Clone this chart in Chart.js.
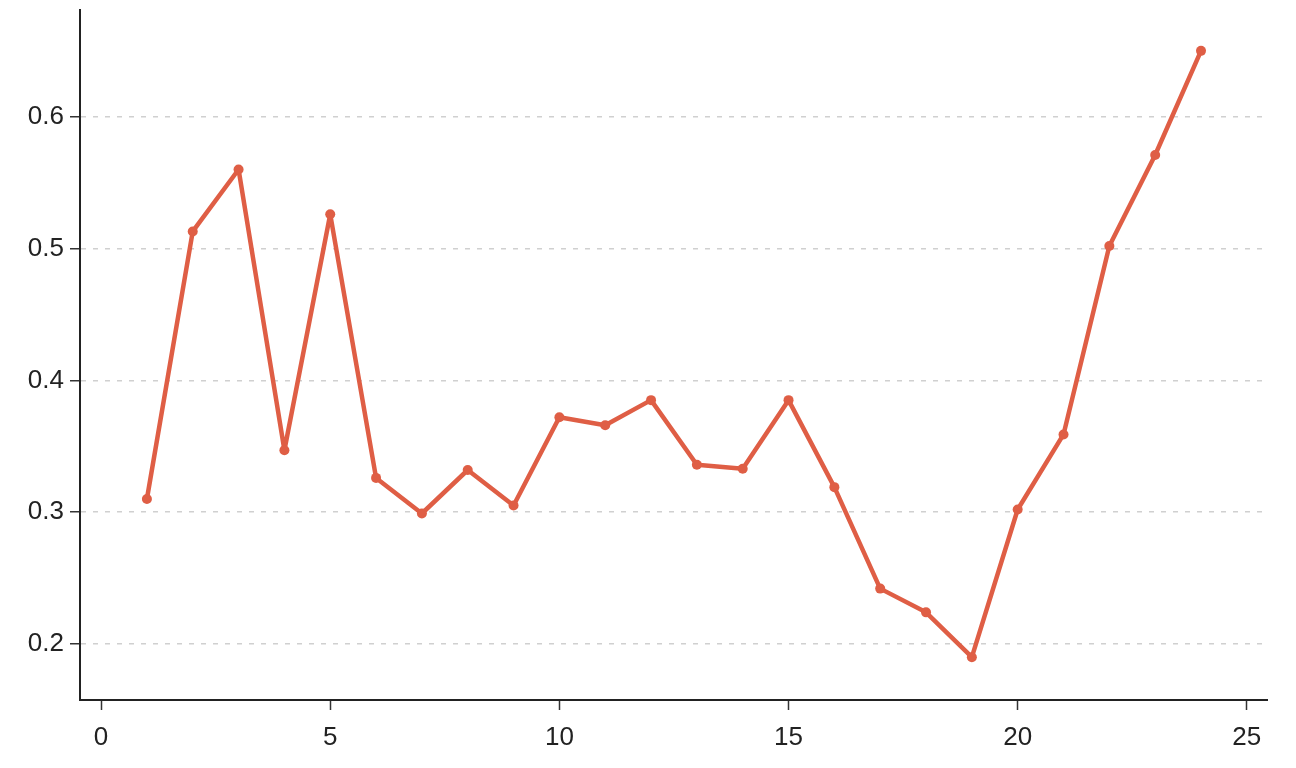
<!DOCTYPE html>
<html>
<head>
<meta charset="utf-8">
<script src="https://cdn.jsdelivr.net/npm/chart.js@4.4.1/dist/chart.umd.min.js"></script>
<style>
  html, body { margin: 0; padding: 0; background: #ffffff; }
  #chart { display: block; }
</style>
</head>
<body>
<canvas id="chart" width="1296" height="768"></canvas>
<script>
// Values
const steps = [1, 2, 3, 4, 5, 6, 7, 8, 9, 10, 11, 12, 13, 14, 15, 16, 17, 18, 19, 20, 21, 22, 23, 24];
const values = [0.310, 0.513, 0.560, 0.347, 0.526, 0.326, 0.299, 0.332, 0.305, 0.372, 0.366, 0.385,
                0.336, 0.333, 0.385, 0.319, 0.242, 0.224, 0.190, 0.302, 0.359, 0.502, 0.571, 0.650];
const xTicks = [0, 5, 10, 15, 20, 25];
const yTicks = [0.2, 0.3, 0.4, 0.5, 0.6];

const lineColor = '#df5e45';
const axisColor = '#222222';
const font = { family: 'Liberation Sans, Arial, Helvetica, sans-serif', size: 26 };

let ctx = document.getElementById('chart');

new Chart(ctx, {
    type: 'line',
    data: {
        datasets: [{
            data: steps.map((s, i) => ({ x: s, y: values[i] })),
            borderColor: lineColor,
            backgroundColor: lineColor,
            borderWidth: 4.5,
            borderJoinStyle: 'round',
            borderCapStyle: 'round',
            pointRadius: 5,
            pointBorderWidth: 0,
            tension: 0
        }]
    },
    options: {
        responsive: false,
        animation: false,
        layout: {
            padding: { top: 10, right: 29, left: 0, bottom: 0 }
        },
        plugins: {
            legend: { display: false },
            tooltip: { enabled: false }
        },
        scales: {
            x: {
                type: 'linear',
                min: -0.46,
                max: 25.44,
                afterBuildTicks: axis => { axis.ticks = xTicks.map(v => ({ value: v })); },
                afterFit: axis => {
                    axis.height = 68;
                    axis.paddingLeft = 0;
                    axis.paddingRight = 0;
                },
                grid: {
                    drawOnChartArea: false,
                    tickLength: 10,
                    tickColor: '#333333',
                    tickWidth: 1.5
                },
                border: { color: axisColor, width: 2 },
                ticks: {
                    color: axisColor,
                    font: font,
                    padding: 12,
                    maxRotation: 0
                }
            },
            y: {
                min: 0.1575,
                max: 0.681,
                afterBuildTicks: axis => { axis.ticks = yTicks.map(v => ({ value: v })); },
                afterFit: axis => {
                    axis.width = 80;
                    axis.paddingTop = 0;
                    axis.paddingBottom = 0;
                },
                grid: {
                    color: '#d0d0d0',
                    lineWidth: 1.5,
                    tickBorderDash: [],
                    tickLength: 10,
                    tickColor: '#333333',
                    tickWidth: 1.5
                },
                border: { color: axisColor, width: 2, dash: [5, 7] },
                ticks: {
                    color: axisColor,
                    font: font,
                    padding: 6,
                    callback: v => v.toFixed(1)
                }
            }
        }
    }
});
</script>
</body>
</html>
